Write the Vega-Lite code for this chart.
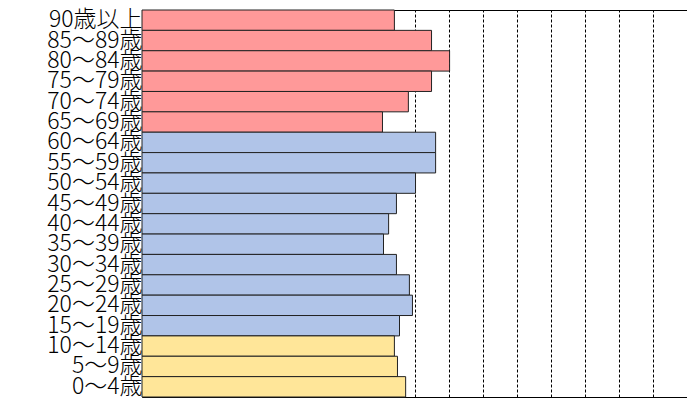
{
  "$schema": "https://vega.github.io/schema/vega-lite/v6.json",
  "width": 545,
  "height": 387,
  "autosize": "none",
  "padding": {"left": 142, "top": 10, "right": 0, "bottom": 4},
  "config": {"view": {"stroke": "#000", "strokeWidth": 1}},
  "data": {
    "values": [
      {"age": "90歳以上", "v": 7.41, "g": "old"},
      {"age": "85～89歳", "v": 8.5, "g": "old"},
      {"age": "80～84歳", "v": 9.03, "g": "old"},
      {"age": "75～79歳", "v": 8.5, "g": "old"},
      {"age": "70～74歳", "v": 7.82, "g": "old"},
      {"age": "65～69歳", "v": 7.06, "g": "old"},
      {"age": "60～64歳", "v": 8.62, "g": "work"},
      {"age": "55～59歳", "v": 8.62, "g": "work"},
      {"age": "50～54歳", "v": 8.03, "g": "work"},
      {"age": "45～49歳", "v": 7.47, "g": "work"},
      {"age": "40～44歳", "v": 7.24, "g": "work"},
      {"age": "35～39歳", "v": 7.09, "g": "work"},
      {"age": "30～34歳", "v": 7.47, "g": "work"},
      {"age": "25～29歳", "v": 7.85, "g": "work"},
      {"age": "20～24歳", "v": 7.94, "g": "work"},
      {"age": "15～19歳", "v": 7.56, "g": "work"},
      {"age": "10～14歳", "v": 7.41, "g": "young"},
      {"age": "5～9歳", "v": 7.5, "g": "young"},
      {"age": "0～4歳", "v": 7.74, "g": "young"}
    ]
  },
  "mark": {"type": "bar", "stroke": "#222", "strokeWidth": 1},
  "encoding": {
    "y": {
      "field": "age", "type": "nominal", "sort": null,
      "scale": {"paddingInner": 0, "paddingOuter": 0},
      "axis": {"title": null, "domain": false, "ticks": false, "labelPadding": 0,
        "labelFont": "Noto Sans CJK JP", "labelFontWeight": 300, "labelFontSize": 23, "labelColor": "#000", "labelLimit": 200}
    },
    "x": {
      "field": "v", "type": "quantitative",
      "scale": {"domain": [0, 16], "nice": false},
      "axis": {"title": null, "labels": false, "ticks": false, "domain": false, "tickCount": 16,
        "gridDash": [3, 2], "gridColor": "#000",
        "gridOpacity": {"condition": {"test": "datum.value >= 8 && datum.value < 16", "value": 1}, "value": 0}}
    },
    "color": {
      "field": "g", "type": "nominal", "legend": null,
      "scale": {"domain": ["old", "work", "young"], "range": ["#ff9999", "#b0c4e8", "#ffe699"]}
    }
  }
}
